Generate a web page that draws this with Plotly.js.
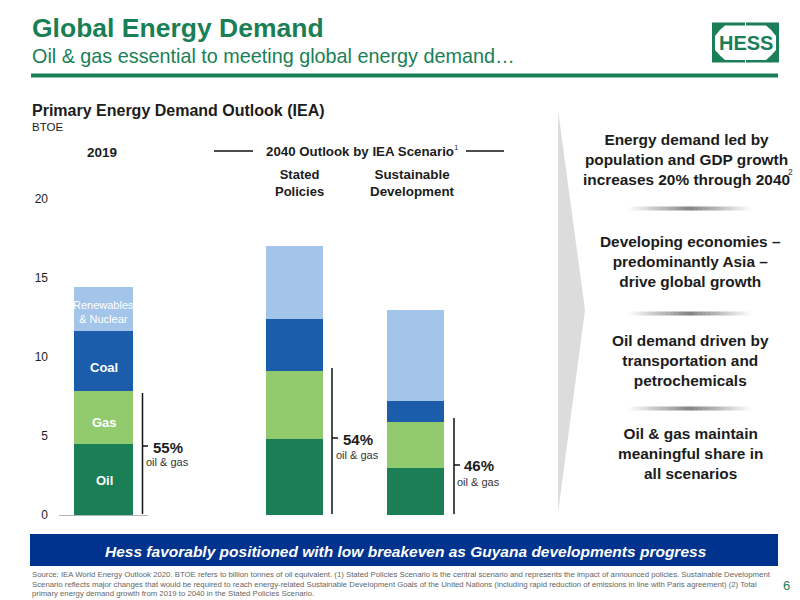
<!DOCTYPE html>
<html><head><meta charset="utf-8">
<script src="https://cdn.plot.ly/plotly-3.0.1.min.js"></script>
<style>html,body{margin:0;padding:0;background:#fff}#chart{width:800px;height:600px}</style>
</head><body><div id="chart"></div>
<script>
// ---------- chart data (BTOE) ----------
const categories = ['2019', 'Stated Policies', 'Sustainable Development'];
const oil = [4.5, 4.8, 3.0];
const gas = [3.35, 4.3, 2.9];
const coal = [3.8, 3.3, 1.3];
const renewables = [2.78, 4.6, 5.8];
const seriesNames = ['Oil', 'Gas', 'Coal', 'Renewables & Nuclear'];
const yTicks = [0, 5, 10, 15, 20];
const shares = ['55%', '54%', '46%'];

const GREEN = '#1a7f56', FONT = 'Liberation Sans, Arial, sans-serif';
const colors = ['#1a7f56', '#92cb6d', '#1b5dab', '#a3c5e9'];
const X = x => x / 800, Y = y => 1 - y / 600;

// ---------- bars ----------
const traces = [];
[oil, gas, coal, renewables].forEach((vals, i) => {
  traces.push({type: 'bar', name: seriesNames[i], x: categories.slice(0, 1), y: vals.slice(0, 1),
    xaxis: 'x', yaxis: 'y', width: 0.663, marker: {color: colors[i], line: {width: 0}}, hoverinfo: 'x+y+name'});
  traces.push({type: 'bar', name: seriesNames[i], x: categories.slice(1), y: vals.slice(1),
    xaxis: 'x2', yaxis: 'y', width: 0.471, marker: {color: colors[i], line: {width: 0}}, hoverinfo: 'x+y+name'});
});

// ---------- decoration ----------
const rect = (x0, y0, x1, y1, fill) => ({type: 'rect', xref: 'paper', yref: 'paper', x0: X(x0), x1: X(x1), y0: Y(y0), y1: Y(y1), fillcolor: fill, line: {width: 0}, layer: 'below'});
const seg = (x0, y0, x1, y1, color, w) => ({type: 'line', xref: 'paper', yref: 'paper', x0: X(x0), x1: X(x1), y0: Y(y0), y1: Y(y1), line: {color: color, width: w}, layer: 'above'});
const poly = (pts, fill) => ({type: 'path', xref: 'paper', yref: 'paper', path: pts, fillcolor: fill, line: {width: 0}, layer: 'below'});
const pathOf = s => s.replace(/(-?[\d.]+) (-?[\d.]+)/g, (m, a, b) => X(+a) + ' ' + Y(+b));

const shapes = [
  rect(31, 73.5, 778, 77.5, GREEN),
  rect(30, 534, 778, 566, '#00338d'),
  poly(pathOf('M558 110 L585 310 L558 513 Z'), '#dcdcdc'),
  // logo
  rect(712, 22.5, 779, 62.5, GREEN),
  poly(pathOf('M725 25.5 L766 25.5 Q771 29 776 36 L776 50 Q771 56 766 60 L725 60 Q720 56 715 50 L715 36 Q720 29 725 25.5 Z'), '#ffffff'),
  rect(745, 22.5, 746, 26, '#ffffff'),
  rect(745, 59.5, 746, 62.5, '#ffffff'),
  // header rules
  seg(214, 151, 253, 151, '#111111', 1.5),
  seg(466, 151, 504, 151, '#111111', 1.5),
  // oil & gas brackets
  seg(142.5, 393, 142.5, 514, '#111', 1.5), seg(142.5, 446, 148, 446, '#111', 1.5),
  seg(332, 368, 332, 514, '#111', 1.5), seg(332, 438, 338, 438, '#111', 1.5),
  seg(454, 418, 454, 514, '#111', 1.5), seg(454, 465, 460, 465, '#111', 1.5)
];
// gradient dividers
[208.5, 313.5, 408.5].forEach(y => {
  const n = 30, x0 = 628, x1 = 752;
  for (let i = 0; i < n; i++) {
    const t = 1 - Math.abs((i + 0.5) / n * 2 - 1);
    const v = Math.round(255 - t * 125);
    shapes.push(rect(x0 + (x1 - x0) * i / n, y - 2, x0 + (x1 - x0) * (i + 1) / n + 0.3, y + 2, `rgb(${v},${v},${v})`));
  }
});

const note = (x, y, text, size, color, o = {}) => Object.assign({
  xref: 'paper', yref: 'paper', x: X(x), y: Y(y), text: text, showarrow: false,
  xanchor: 'center', yanchor: 'middle', borderpad: 0,
  font: {family: FONT, size: size, color: color}
}, o);
const L = {xanchor: 'left', align: 'left'};
const B = t => '<b>' + t + '</b>';
const DK = '#1c1c1c';

const annotations = [
  note(31, 28, B('Global Energy Demand'), 26.5, GREEN, L),
  note(31, 56, 'Oil &amp; gas essential to meeting global energy demand…', 19.8, GREEN, L),
  note(745.5, 43, B('HESS'), 20, GREEN),
  note(31, 110, B('Primary Energy Demand Outlook (IEA)'), 16, DK, L),
  note(31, 127, 'BTOE', 11.5, DK, L),
  note(102, 152, B(categories[0]), 13.5, DK),
  note(359.5, 151, B('2040 Outlook by IEA Scenario'), 13.3, DK),
  note(453, 147, '1', 8, '#333333', {xanchor: 'left'}),
  note(299, 183, B('Stated<br>Policies'), 13, DK),
  note(412.5, 183, B('Sustainable<br>Development'), 13.4, DK),
  note(103.5, 311.5, 'Renewables<br>&amp; Nuclear', 11, '#ffffff'),
  note(104, 367, B('Coal'), 13, '#ffffff'),
  note(104, 422, B('Gas'), 13, '#ffffff'),
  note(104, 480, B('Oil'), 13, '#ffffff'),
  note(168, 447, B(shares[0]), 15, DK),
  note(167, 462, 'oil &amp; gas', 11, '#333333'),
  note(358, 439, B(shares[1]), 15, DK),
  note(357, 455, 'oil &amp; gas', 11, '#333333'),
  note(479, 466, B(shares[2]), 15, DK),
  note(478, 482, 'oil &amp; gas', 11, '#333333'),
  note(686, 159, B('Energy demand led by<br>population and GDP growth<br>increases 20% through 2040'), 15.4, DK),
  note(787, 172, '2', 8.5, '#333333', {xanchor: 'left'}),
  note(690, 261, B('Developing economies –<br>predominantly Asia –<br>drive global growth'), 15.4, DK),
  note(690, 360, B('Oil demand driven by<br>transportation and<br>petrochemicals'), 15.4, DK),
  note(690, 453, B('Oil &amp; gas maintain<br>meaningful share in<br>all scenarios'), 15.4, DK),
  note(406, 551, '<b><i>Hess favorably positioned with low breakeven as Guyana developments progress</i></b>', 15.5, '#ffffff'),
  note(31, 574, 'Source: IEA World Energy Outlook 2020. BTOE refers to billion tonnes of oil equivalent. (1) Stated Policies Scenario is the central scenario and represents the impact of announced policies. Sustainable Development', 7.77, '#666666', L),
  note(31, 584, 'Scenario reflects major changes that would be required to reach energy-related Sustainable Development Goals of the United Nations (including rapid reduction of emissions in line with Paris agreement) (2) Total', 7.77, '#666666', L),
  note(31, 593, 'primary energy demand growth from 2019 to 2040 in the Stated Policies Scenario.', 7.77, '#666666', L),
  note(786, 585, '6', 13, GREEN)
];

const layout = {
  width: 800, height: 600, margin: {l: 0, r: 0, t: 0, b: 0}, showlegend: false,
  paper_bgcolor: '#fff', plot_bgcolor: 'rgba(0,0,0,0)', barmode: 'stack', bargap: 0,
  font: {family: FONT, color: '#222'},
  xaxis: {domain: [X(59), X(148)], anchor: 'y', type: 'category', showticklabels: false, ticks: '', showgrid: false,
          zeroline: false, showline: true, linecolor: '#b5b5b5', linewidth: 1},
  xaxis2: {domain: [X(234), X(476)], anchor: 'y', type: 'category', showticklabels: false, ticks: '', showgrid: false,
          zeroline: false, showline: false},
  yaxis: {domain: [1 - 515 / 600, 1 - 199 / 600], range: [0, 20], tickmode: 'array', tickvals: yTicks,
          ticktext: yTicks.map(String), tickfont: {size: 12, color: '#222', family: FONT}, ticks: '', showgrid: false,
          zeroline: false, showline: false, ticklabelstandoff: 10, anchor: 'x'},
  shapes: shapes, annotations: annotations
};
Plotly.newPlot('chart', traces, layout, {displayModeBar: false, staticPlot: true});
</script></body></html>
